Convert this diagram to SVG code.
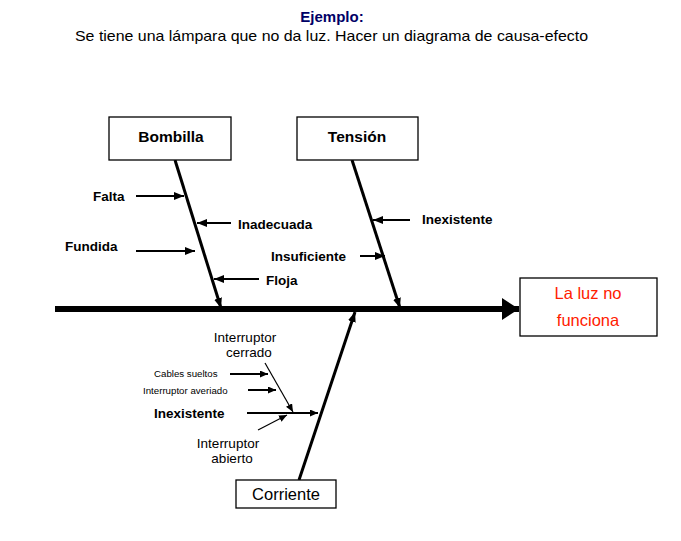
<svg xmlns="http://www.w3.org/2000/svg" width="681" height="541" viewBox="0 0 681 541">
<style>
text{font-family:"Liberation Sans",Arial,sans-serif;fill:#000}
.box{fill:#fff;stroke:#000;stroke-width:1.3}
.hd{font-size:15.5px;font-weight:bold;text-anchor:middle}
.lb{font-size:13.5px;font-weight:bold}
.sm{font-size:9.7px}
.nm{font-size:13.5px;text-anchor:middle}
.bone{stroke:#000;stroke-width:3;fill:none}
.sub{stroke:#000;stroke-width:2;fill:none}
.thin{stroke:#000;stroke-width:1.2;fill:none}
.eff{font-size:16.5px;fill:#ff2000;text-anchor:middle}
</style>
<defs>
<marker id="ah" markerUnits="userSpaceOnUse" markerWidth="12" markerHeight="10" refX="10" refY="4" orient="auto"><path d="M0,0 L10,4 L0,8 Z" fill="#000"/></marker>
<marker id="ahs" markerUnits="userSpaceOnUse" markerWidth="10" markerHeight="8" refX="8" refY="3.5" orient="auto"><path d="M0,0 L8,3.5 L0,7 Z" fill="#000"/></marker>
<marker id="big" markerUnits="userSpaceOnUse" markerWidth="20" markerHeight="24" refX="17" refY="11" orient="auto"><path d="M0,0 L17,11 L0,22 Z" fill="#000"/></marker>
</defs>
<text x="332" y="22" text-anchor="middle" style="font-size:15px;font-weight:bold;fill:#000066">Ejemplo:</text>
<text x="75" y="41" style="font-size:14.5px" textLength="513" lengthAdjust="spacingAndGlyphs">Se tiene una lámpara que no da luz. Hacer un diagrama de causa-efecto</text>
<g id="connectors">
<line x1="55" y1="309" x2="519" y2="309" stroke="#000" stroke-width="6" marker-end="url(#big)"/>
<line class="bone" x1="175" y1="160" x2="221" y2="308" marker-end="url(#ah)"/>
<line class="bone" x1="352" y1="160" x2="400" y2="308" marker-end="url(#ah)"/>
<line class="bone" x1="299" y1="480" x2="355" y2="312" marker-end="url(#ah)"/>
<line class="sub" x1="136" y1="196" x2="184" y2="196" marker-end="url(#ah)"/>
<line class="sub" x1="231" y1="223" x2="197" y2="223" marker-end="url(#ah)"/>
<line class="sub" x1="136" y1="251" x2="195" y2="251" stroke-width="2.6" marker-end="url(#ah)"/>
<line class="sub" x1="259" y1="279" x2="214" y2="279" marker-end="url(#ah)"/>
<line class="sub" x1="410" y1="220" x2="373" y2="220" marker-end="url(#ah)"/>
<line class="sub" x1="360" y1="256" x2="385" y2="256" marker-end="url(#ah)"/>
<line class="sub" x1="230" y1="374" x2="268" y2="374" stroke-width="1.6" marker-end="url(#ahs)"/>
<line class="sub" x1="248" y1="390" x2="276" y2="390" stroke-width="1.6" marker-end="url(#ahs)"/>
<line class="sub" x1="247" y1="413" x2="318" y2="413" marker-end="url(#ahs)"/>
<line class="thin" x1="265" y1="363" x2="293" y2="412" marker-end="url(#ahs)"/>
<line class="thin" x1="258" y1="430" x2="287" y2="415" marker-end="url(#ahs)"/>
</g>
<g id="bombilla"><rect class="box" x="109" y="117" width="122" height="43"/><text class="hd" x="171" y="142">Bombilla</text></g>
<g id="tension"><rect class="box" x="297" y="117" width="121" height="43"/><text class="hd" x="357" y="142">Tensión</text></g>
<g id="efecto"><rect class="box" x="520" y="278" width="137" height="58" stroke-width="2"/>
<text class="eff" x="588" y="299">La luz no</text>
<text class="eff" x="588" y="326">funciona</text></g>
<g id="corriente"><rect class="box" x="236" y="480" width="100" height="28"/><text x="286" y="500" text-anchor="middle" style="font-size:16.5px">Corriente</text></g>
<g id="labels">
<text class="lb" x="93" y="201">Falta</text>
<text class="lb" x="238" y="229">Inadecuada</text>
<text class="lb" x="65" y="251">Fundida</text>
<text class="lb" x="266" y="285">Floja</text>
<text class="lb" x="422" y="224">Inexistente</text>
<text class="lb" x="271" y="261">Insuficiente</text>
<text class="nm" x="245" y="342">Interruptor</text>
<text class="nm" x="249" y="357">cerrado</text>
<text class="sm" x="154" y="377">Cables sueltos</text>
<text class="sm" x="143" y="394">Interruptor averiado</text>
<text class="lb" x="154" y="418">Inexistente</text>
<text class="nm" x="228" y="448">Interruptor</text>
<text class="nm" x="232" y="463">abierto</text>
</g>
</svg>
